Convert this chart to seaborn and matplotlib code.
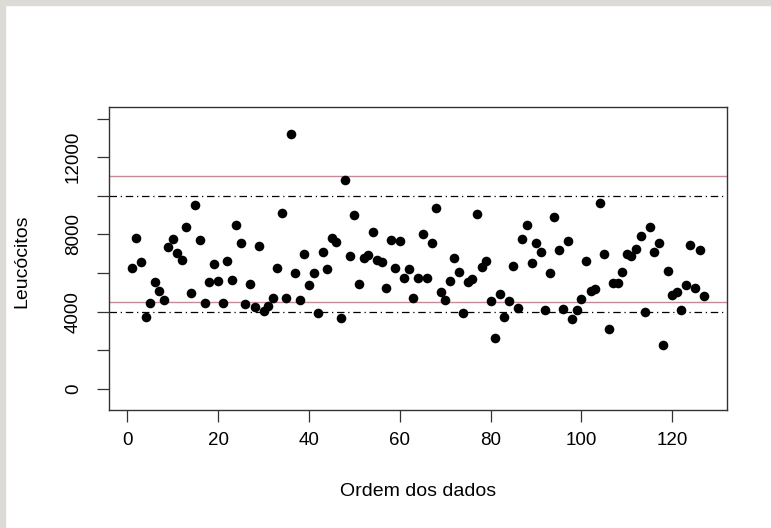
import numpy as np
import matplotlib
matplotlib.use("Agg")
import matplotlib.pyplot as plt
import seaborn as sns
from matplotlib.patches import Rectangle

# ---------------- DATA ----------------
leucocitos = [
    6250, 7830, 6560, 3750, 4450, 5550, 5100, 4600, 7340, 7770,
    7030, 6680, 8370, 4950, 9500, 7720, 4450, 5550, 6480, 5580,
    4450, 6620, 5650, 8470, 7540, 4400, 5430, 4260, 7390, 4060,
    4300, 4730, 6250, 9120, 4740, 13200, 6030, 4600, 7010, 5380,
    6030, 3920, 7110, 6200, 7840, 7610, 3690, 10810, 6910, 9020,
    5430, 6800, 6920, 8140, 6680, 6560, 5210, 7720, 6250, 7650,
    5760, 6190, 4730, 5760, 8040, 5760, 7540, 9350, 5000, 4600,
    5580, 6800, 6080, 3920, 5550, 5690, 9070, 6320, 6620, 4550,
    2660, 4900, 3750, 4550, 6360, 4180, 7780, 8470, 6530, 7540,
    7100, 4070, 6030, 8920, 7220, 4120, 7660, 3640, 4070, 4640,
    6620, 5070, 5170, 9620, 7010, 3090, 5500, 5500, 6070, 6980,
    6870, 7230, 7940, 4000, 8390, 7100, 7540, 2290, 6130, 4860,
    5030, 4070, 5380, 7460, 5210, 7220, 4830,
]
ordem = list(range(1, len(leucocitos) + 1))

ref_vermelho = [4500, 11000]   # solid pink lines
ref_tracejado = [4000, 10000]  # dot-dash lines

x_ticks = [0, 20, 40, 60, 80, 100, 120]
y_ticks = [0, 2000, 4000, 6000, 8000, 10000, 12000, 14000]
y_labels = ["0", "", "4000", "", "8000", "", "12000", ""]

# ---------------- STYLE ----------------
sns.set_style("white")
plt.rcParams["font.family"] = ["Liberation Sans", "DejaVu Sans"]

fig = plt.figure(figsize=(7.71, 5.28), dpi=100)
ax = fig.add_axes([109 / 771, 1 - 410 / 528, 618 / 771, 302.7 / 528])

# gray frame on left and top edges (screenshot border)
border = "#dddbd6"
fig.patches.append(Rectangle((0, 0), 5 / 771, 1, transform=fig.transFigure,
                             color=border, zorder=0))
fig.patches.append(Rectangle((0, 1 - 5 / 528), 1, 5 / 528, transform=fig.transFigure,
                             color=border, zorder=0))

# ---------------- PLOT ----------------
sns.scatterplot(x=ordem, y=leucocitos, color="black", s=48,
                linewidth=0, ax=ax, zorder=3)

for v in ref_vermelho:
    ax.axhline(v, color="#c48a95", lw=1.0, zorder=2)
for v in ref_tracejado:
    ax.axhline(v, color="black", lw=0.9, dashes=(6, 3, 1, 3), zorder=2)

ax.set_xlim(-4.04, 132.04)
ax.set_ylim(-1080, 14580)
ax.set_xticks(x_ticks)
ax.set_yticks(y_ticks)
ax.set_yticklabels(y_labels, rotation=90, va="center")

for sp in ax.spines.values():
    sp.set_color("#333333")
    sp.set_linewidth(1.0)

ax.tick_params(axis="both", direction="out", length=8.6, width=0.9,
               color="#333333", labelsize=13.5, labelcolor="black")
ax.tick_params(axis="x", pad=7, bottom=True)
ax.tick_params(axis="y", pad=11, left=True)

ax.set_xlabel("Ordem dos dados", fontsize=14, color="black")
ax.set_ylabel("Leucócitos", fontsize=14, color="black")
ax.xaxis.set_label_coords(0.5, -(492 - 410) / 302.7)
ax.xaxis.label.set_va("center")
ax.yaxis.set_label_coords(-(109 - 22) / 618, 0.49)
ax.yaxis.label.set_va("center")

fig.savefig("out.png", dpi=100)
